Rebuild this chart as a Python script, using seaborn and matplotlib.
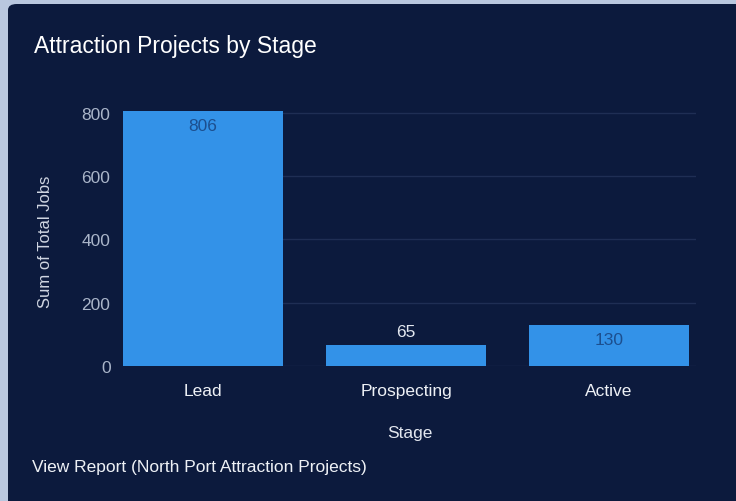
import matplotlib
matplotlib.use("Agg")
import matplotlib.pyplot as plt
from matplotlib.patches import FancyBboxPatch
import pandas as pd
import seaborn as sns

# data
stages = ["Lead", "Prospecting", "Active"]
total_jobs = [806, 65, 130]
y_ticks = [0, 200, 400, 600, 800]

panel_bg = "#0c1a3d"
bar_color = "#3392e8"

sns.set_theme(style="dark")
plt.rcParams['font.family'] = ['Liberation Sans', 'DejaVu Sans']

df = pd.DataFrame({"Stage": stages, "Sum of Total Jobs": total_jobs})

fig = plt.figure(figsize=(7.36, 5.02), dpi=100)
fig.patch.set_facecolor("#b9c7df")

# dark card behind everything
card = FancyBboxPatch((8 / 736, -0.05), 1.05, 1.05 - 5 / 502,
                      boxstyle="round,pad=0,rounding_size=0.012",
                      transform=fig.transFigure, facecolor=panel_bg,
                      edgecolor="none", zorder=-1)
fig.add_artist(card)

ax = fig.add_axes([123 / 736, 135 / 502, 573 / 736, 269 / 502])
ax.set_facecolor(panel_bg)

sns.barplot(data=df, x="Stage", y="Sum of Total Jobs", color=bar_color,
            width=0.79, saturation=1, linewidth=0, ax=ax, zorder=2)

ax.set_xlim(-0.395, 2.428)
ax.set_ylim(0, 850)
ax.set_yticks(y_ticks)
ax.grid(axis="y", color="#1f2e54", linewidth=1)
ax.grid(axis="x", visible=False)
for s in ax.spines.values():
    s.set_visible(False)

ax.tick_params(axis="y", colors="#aab5c9", labelsize=12.5, length=0, pad=9)
ax.tick_params(axis="x", colors="#eef1f6", labelsize=12.5, length=0, pad=12.5)
ax.set_ylabel("Sum of Total Jobs", color="#d0d6e2", fontsize=12)
ax.yaxis.set_label_coords(-0.123, 0.465)
ax.set_xlabel("Stage", color="#e3e7ef", fontsize=12.5, labelpad=19)

# data labels: inside the bar when it fits, above otherwise
bars = ax.containers[0]
for rect, v in zip(bars, total_jobs):
    cx = rect.get_x() + rect.get_width() / 2
    if v > 100:
        ax.annotate(str(v), (cx, v), xytext=(0, -15), textcoords="offset pixels",
                    ha="center", va="center", color="#1c4f8f", fontsize=12.5, zorder=3)
    else:
        ax.annotate(str(v), (cx, v), xytext=(0, 14), textcoords="offset pixels",
                    ha="center", va="center", color="#e3e7ef", fontsize=12.5, zorder=3)

fig.text(34 / 736, 1 - 46 / 502, "Attraction Projects by Stage", color="white",
         fontsize=16.5, va="center", ha="left")
fig.text(32 / 736, 1 - 468 / 502, "View Report (North Port Attraction Projects)",
         color="#eef1f6", fontsize=12.5, va="center", ha="left")

fig.savefig("out.png", dpi=100, facecolor=fig.get_facecolor())
